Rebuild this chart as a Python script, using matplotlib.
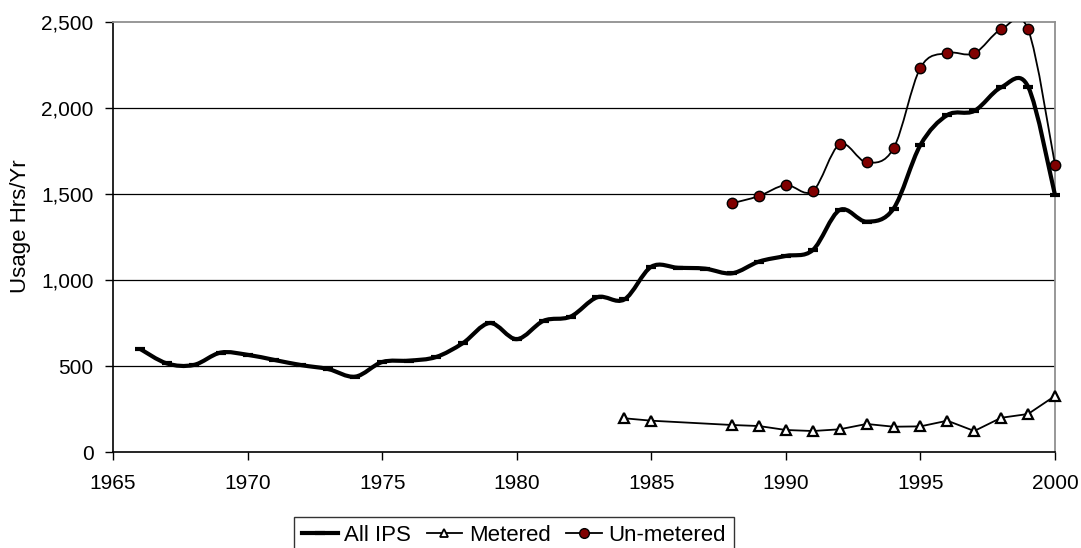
import numpy as np
import matplotlib
matplotlib.use("Agg")
import matplotlib.pyplot as plt
from matplotlib.path import Path
from matplotlib.patches import PathPatch
from matplotlib.lines import Line2D
from matplotlib.ticker import FuncFormatter

plt.rcParams['font.family'] = ['Liberation Sans', 'DejaVu Sans']

all_years = list(range(1966, 2001))
all_ips = [600, 515, 506, 578, 565, 535, 505, 482, 438, 523,
           531, 552, 633, 750, 656, 763, 787, 900, 887, 1077,
           1071, 1066, 1039, 1107, 1140, 1174, 1407, 1339, 1415, 1785,
           1959, 1983, 2120, 2124, 1494]

metered_years = [1984, 1985, 1988, 1989, 1990, 1991, 1992, 1993, 1994,
                 1995, 1996, 1997, 1998, 1999, 2000]
metered = [196, 182, 157, 151, 128, 122, 132, 163, 147, 149, 182, 122, 199, 221, 326]

unmetered_years = list(range(1988, 2001))
unmetered = [1446, 1488, 1552, 1517, 1789, 1684, 1765, 2234, 2320, 2318, 2457, 2457, 1671]

x_ticks = [1965, 1970, 1975, 1980, 1985, 1990, 1995, 2000]
y_ticks = [0, 500, 1000, 1500, 2000, 2500]


def smooth_path(xs, ys):
    xs = np.asarray(xs, float)
    ys = np.asarray(ys, float)
    pts = np.column_stack([xs, ys])
    n = len(pts)
    verts = [pts[0]]
    codes = [Path.MOVETO]
    for i in range(n - 1):
        p0 = pts[i - 1] if i > 0 else pts[i]
        p1 = pts[i]
        p2 = pts[i + 1]
        p3 = pts[i + 2] if i + 2 < n else pts[i + 1]
        c1 = p1 + (p2 - p0) / 6.0
        c2 = p2 - (p3 - p1) / 6.0
        verts += [c1, c2, p2]
        codes += [Path.CURVE4] * 3
    return Path(verts, codes)


fig = plt.figure(figsize=(10.81, 5.48), dpi=100)
ax = fig.add_axes([113 / 1081, (548 - 452) / 548, (1055 - 113) / 1081, (452 - 22) / 548])

# gridlines
for yv in y_ticks[1:-1]:
    ax.axhline(yv, color='black', lw=0.9, zorder=1)

# All IPS (thick smoothed line with dash markers)
p_all = PathPatch(smooth_path(all_years, all_ips), facecolor='none',
                  edgecolor='black', lw=3.0, zorder=3, capstyle='butt')
ax.add_patch(p_all)
p_all.set_clip_on(False)
ax.plot(all_years, all_ips, linestyle='none', marker='_', markersize=7,
        markeredgewidth=3, color='black', zorder=4, clip_on=False)

# Un-metered (thin smoothed line with dark red circles)
ax.add_patch(PathPatch(smooth_path(unmetered_years, unmetered), facecolor='none',
                       edgecolor='black', lw=1.3, zorder=3))
ax.plot(unmetered_years, unmetered, linestyle='none', marker='o', markersize=7.5,
        markerfacecolor='#800000', markeredgecolor='black', markeredgewidth=1.0,
        zorder=5, clip_on=False)

# Metered (straight line with white triangles)
ax.plot(metered_years, metered, color='black', lw=1.3, marker='^', markersize=7.5,
        markerfacecolor='white', markeredgecolor='black', markeredgewidth=1.6,
        zorder=5, clip_on=False)

ax.set_xlim(1965, 2000)
ax.set_ylim(0, 2500)
ax.set_xticks(x_ticks)
ax.set_yticks(y_ticks)
ax.yaxis.set_major_formatter(FuncFormatter(lambda v, p: f"{int(v):,}"))
ax.tick_params(axis='both', direction='out', length=6, width=1, labelsize=15,
               color='black')
ax.tick_params(axis='y', pad=8)
ax.tick_params(axis='x', pad=10)
ax.set_ylabel('Usage Hrs/Yr', fontsize=16)
ax.yaxis.set_label_coords(-0.087, 0.526)

for s in ['left', 'bottom']:
    ax.spines[s].set_color('black')
    ax.spines[s].set_linewidth(1.2)
for s in ['top', 'right']:
    ax.spines[s].set_color('#909090')
    ax.spines[s].set_linewidth(1.3)

handles = [
    Line2D([], [], color='black', lw=3, marker='_', markersize=7, markeredgewidth=3),
    Line2D([], [], color='black', lw=1.3, marker='^', markersize=6,
           markerfacecolor='white', markeredgecolor='black', markeredgewidth=1.3),
    Line2D([], [], color='black', lw=1.3, marker='o', markersize=7,
           markerfacecolor='#800000', markeredgecolor='black'),
]
leg = fig.legend(handles, ['All IPS', 'Metered', 'Un-metered'], loc='upper center',
                 bbox_to_anchor=(514 / 1081, 1 - 517 / 548), ncol=3, frameon=True,
                 fancybox=False, edgecolor='black', fontsize=16, handlelength=1.6,
                 handletextpad=0.3, columnspacing=0.7, borderpad=0.35,
                 borderaxespad=0)
leg.get_frame().set_linewidth(1.0)

fig.savefig('out.png', dpi=100)
